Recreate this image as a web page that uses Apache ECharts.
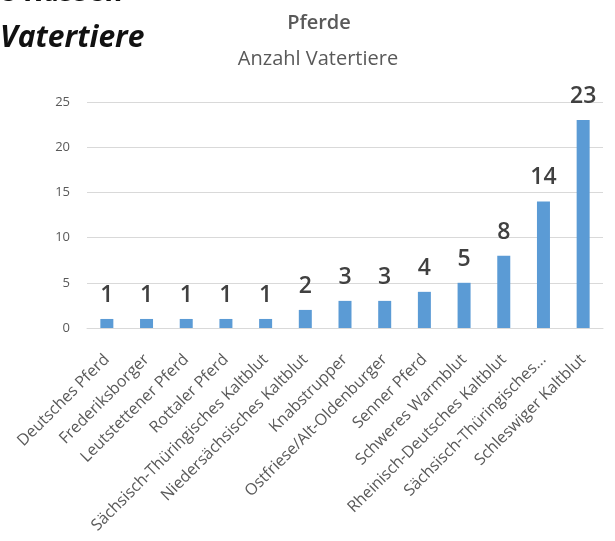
<!DOCTYPE html>
<html>
<head>
<meta charset="utf-8">
<script src="https://cdn.jsdelivr.net/npm/echarts@6/dist/echarts.min.js"></script>
<style>
  html, body { margin: 0; padding: 0; background: #ffffff; }
  #chart { width: 615px; height: 541px; }
</style>
</head>
<body>
<div id="chart"></div>
<script>
// Stallions per horse breed
const breeds = [
  'Deutsches Pferd',
  'Frederiksborger',
  'Leutstettener Pferd',
  'Rottaler Pferd',
  'Sächsisch-Thüringisches Kaltblut',
  'Niedersächsisches Kaltblut',
  'Knabstrupper',
  'Ostfriese/Alt-Oldenburger',
  'Senner Pferd',
  'Schweres Warmblut',
  'Rheinisch-Deutsches Kaltblut',
  'Sächsisch-Thüringisches...',
  'Schleswiger Kaltblut'
];
const stallions = [1, 1, 1, 1, 1, 2, 3, 3, 4, 5, 8, 14, 23];
const yTicks = [0, 5, 10, 15, 20, 25];

const chart = echarts.init(document.getElementById('chart'));
const font = '"Open Sans", "Liberation Sans", sans-serif';

chart.setOption({
  animation: false,
  backgroundColor: '#ffffff',
  title: [
    {
      text: 'Pferde',
      left: 314, top: 8, textAlign: 'center',
      textStyle: { fontFamily: font, fontSize: 20, fontWeight: 600, color: '#595959' }
    },
    {
      text: 'Anzahl Vatertiere',
      left: 313, top: 44, textAlign: 'center',
      textStyle: { fontFamily: font, fontSize: 20, fontWeight: 'normal', color: '#595959' }
    }
  ],
  graphic: {
    elements: [
      {
        type: 'text', x: 0, y: 0, silent: true,
        style: {
          text: 'e Rassen', x: 0, y: 7,
          fontFamily: font, fontSize: 30, fontWeight: 'bold', fontStyle: 'italic',
          fill: '#111111', verticalAlign: 'bottom'
        }
      },
      {
        type: 'text', x: 0, y: 0, silent: true,
        style: {
          text: 'Vatertiere', x: 0, y: 38,
          fontFamily: font, fontSize: 30, fontWeight: 'bold', fontStyle: 'italic',
          fill: '#111111', verticalAlign: 'middle'
        }
      }
    ]
  },
  grid: { left: 87, right: 12, top: 102, bottom: 213, containLabel: false },
  xAxis: {
    type: 'category',
    data: breeds,
    axisTick: { show: false },
    axisLine: { show: true, lineStyle: { color: '#d9d9d9', width: 1 } },
    axisLabel: {
      interval: 0,
      rotate: 45,
      margin: 29,
      fontFamily: font,
      fontSize: 16,
      color: '#595959'
    }
  },
  yAxis: {
    type: 'value',
    min: yTicks[0],
    max: yTicks[yTicks.length - 1],
    interval: yTicks[1] - yTicks[0],
    axisLine: { show: false },
    axisTick: { show: false },
    splitLine: { lineStyle: { color: '#d9d9d9', width: 1 } },
    axisLabel: { margin: 17, fontFamily: font, fontSize: 13, color: '#595959' }
  },
  series: [{
    type: 'bar',
    data: stallions,
    barWidth: 13,
    itemStyle: { color: '#5B9BD5' },
    label: {
      show: true,
      position: 'top',
      distance: 12,
      fontFamily: font,
      fontSize: 23,
      fontWeight: 600,
      color: '#404040'
    }
  }]
});
</script>
</body>
</html>
